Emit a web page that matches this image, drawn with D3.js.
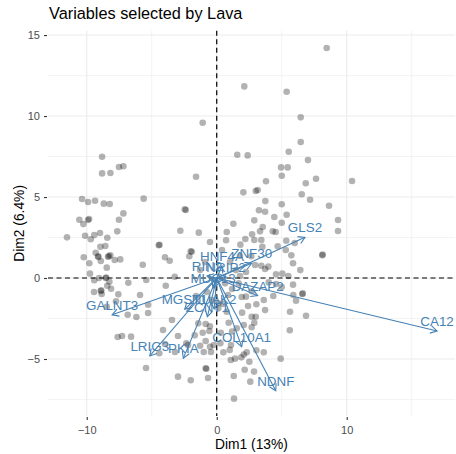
<!DOCTYPE html>
<meta charset="utf-8">
<style>
  body { margin: 0; background: #fff; }
  text { font-family: "Liberation Sans", Arial, sans-serif; }
</style>
<body>
<script src="https://d3js.org/d3.v7.min.js"></script>
<script>

// individuals (Dim1, Dim2)
var individuals = [
  [-8.82,7.49],[-8.82,6.46],[-8.18,6.48],[-7.52,6.85],[-7.18,6.90],[-10.36,4.88],[-9.90,4.69],[-9.36,4.77],
  [-8.69,4.59],[-8.23,4.57],[-5.62,4.90],[-7.18,3.99],[-7.52,3.60],[-10.57,3.60],[-10.26,3.33],[-9.90,3.58],
  [-9.82,3.64],[-11.52,2.51],[-10.13,2.61],[-9.69,2.39],[-9.42,2.65],[-8.98,2.78],[-8.42,2.49],[-7.65,2.88],
  [-8.57,1.98],[-8.95,1.93],[-10.23,1.28],[-9.31,1.56],[-9.13,1.34],[-9.10,1.30],[-8.36,1.31],[-8.30,1.35],
  [-8.18,1.40],[-9.80,0.91],[-8.92,1.05],[-8.46,0.64],[-7.85,1.11],[-7.42,1.15],[-9.75,0.27],[-5.69,0.82],
  [-4.46,2.02],[-4.40,2.05],[-3.98,1.28],[-3.62,1.07],[-2.80,2.92],[-2.46,4.24],[-2.11,1.34],[-2.00,1.65],
  [-3.23,0.08],[-9.42,-0.14],[-9.05,0.00],[-8.54,0.00],[-8.50,0.03],[-8.26,-0.23],[-6.80,-0.29],[-5.42,-0.12],
  [-9.44,-0.86],[-8.92,-0.80],[-8.88,-0.76],[-8.85,-0.99],[-8.42,-0.48],[-8.13,-0.66],[-7.57,-1.01],[-5.90,-1.05],
  [-3.92,-0.48],[-8.46,-1.77],[-7.75,-1.44],[-6.85,-2.27],[-6.18,-2.41],[-5.28,-1.65],[-5.28,-2.16],[-7.62,-3.64],
  [-7.28,-3.58],[-6.59,-3.62],[-4.42,-4.65],[-5.44,-5.56],[-2.98,-6.09],
  [1.58,7.61],[2.38,7.57],[5.54,7.80],[7.02,7.28],[4.95,6.83],[5.46,6.83],[5.00,6.31],[-1.59,6.25],
  [3.79,5.97],[6.85,5.85],[7.64,6.13],[2.05,5.29],[3.00,5.37],[3.15,5.43],[6.54,5.17],[7.18,4.83],
  [3.74,4.75],[5.00,4.55],[8.64,4.46],[3.25,4.18],[3.72,4.09],[-2.38,4.20],[5.38,3.91],[4.43,3.77],
  [1.28,3.35],[2.89,3.56],[3.54,3.15],[3.33,2.88],[0.77,2.84],[0.72,2.33],[-1.38,2.80],[4.31,2.88],
  [4.54,2.84],[5.00,3.41],[9.33,3.58],[9.33,2.90],[2.72,2.70],[2.89,2.35],[2.20,2.41],[3.43,2.35],
  [1.82,2.06],[3.51,1.93],[5.35,2.30],[6.00,2.16],[4.69,1.96],[5.31,1.73],[-1.92,1.62],[8.12,1.40],
  [8.15,1.45],[5.74,1.40],[5.87,0.91],[2.66,1.34],[2.95,0.80],[3.43,0.76],[3.72,0.56],[3.97,0.70],
  [4.56,0.23],[5.05,0.27],[5.51,0.12],[6.43,0.49],[0.64,-0.33],[1.69,-0.33],[4.00,-0.27],[4.56,-0.37],
  [5.00,-0.56],[6.58,-0.99],[6.62,-0.95],[5.87,-0.41],[2.69,-0.82],[4.35,-1.11],[3.62,-1.36],[1.92,-1.17],
  [2.25,-1.15],[3.05,-1.62],[2.41,-1.73],[3.72,-1.98],[6.87,-2.33],[0.12,-1.56],[0.48,-1.60],[0.12,-1.87],
  [0.77,-2.08],[1.95,-2.14],[2.69,-2.39],[3.00,-2.39],[2.08,-2.90],[2.89,-2.76],[2.69,-3.04],[0.92,-2.76],
  [1.54,-3.10],[1.18,-3.31],[5.62,-3.23],[-1.42,-2.80],[-0.85,-2.84],[-0.52,-2.98],[-0.57,-3.27],[-1.08,-3.38],
  [0.31,-3.38],[-1.69,-3.54],[-0.85,-3.89],[-0.52,-4.24],[-0.23,-4.14],[-1.28,-4.18],[0.28,-4.03],[1.10,-4.14],
  [1.00,-4.44],[0.51,-4.59],[-1.00,-4.57],[-0.44,-4.57],[3.05,-4.46],[2.31,-4.59],[2.08,-4.73],[3.62,-4.59],
  [4.92,-4.98],[1.08,-5.06],[1.41,-4.98],[1.89,-4.90],[2.51,-5.17],[2.15,-5.66],[2.87,-5.78],[-0.85,-5.57],
  [-0.80,-5.60],[-0.67,-6.17],[-2.00,-6.31],[1.31,-6.05],[2.58,-6.40],[1.33,-7.45],[-2.34,-4.03],
  [8.46,14.20],[2.12,11.83],[5.38,11.50],[6.46,9.92],[-1.08,9.59],[6.46,8.40],[10.41,5.99],
  [5.89,-1.05],[6.10,-1.40],[5.64,-2.08],
  [-0.90,0.99],[-1.28,0.49],[1.02,0.99],[1.48,0.49],[1.79,0.12],[1.18,-0.68],[-0.75,-0.86],[-1.59,-1.11],
  [-0.36,-1.36],[0.87,-1.05],[2.25,0.37],[1.79,1.36],[0.41,1.73],[-0.52,2.22],
  [-3.44,-2.59],[-4.13,-3.21],[-2.98,-3.58],[-2.21,-4.14],[-3.21,-4.57],[-3.98,-4.07]
];

// variables
var varNames = ["HNF4A", "RIN2", "NRIP2", "MUC13", "ZNF30", "GLS2", "DAZAP2", "CA12",
                "MGST1", "NUAK2", "ZCNT1", "GALNT3", "LRIG3", "PKIA", "COL10A1", "NDNF"];
var varDim1 = [0.40, -0.75, 0.72, -0.28, 2.69, 6.79, 3.15, 16.95,
               -2.46, -0.20, -0.72, -8.05, -5.15, -2.57, 1.92, 4.54];
var varDim2 = [0.74, 0.12, 0.06, -0.62, 0.91, 2.51, -1.09, -3.27,
               -1.93, -1.91, -2.39, -2.27, -4.81, -4.96, -4.24, -6.96];

var xTicks = [-10, 0, 10];
var xMinor = [-5, 5, 15];
var yTicks = [-5, 0, 5, 10, 15];
var yMinor = [-7.5, -2.5, 2.5, 7.5, 12.5];

var W = 456, H = 454;
var pl = 48, pr = 455, pt = 30.7, pb = 416;

var svg = d3.select("body").append("svg")
    .attr("width", W)
    .attr("height", H);

var x = d3.scaleLinear().domain([-12.98, 18.33]).range([pl, pr]);
var y = d3.scaleLinear().domain([-8.52, 15.27]).range([pb, pt]);

// grid
var grid = svg.append("g");
grid.selectAll(".minx").data(xMinor).enter().append("line")
    .attr("x1", d => x(d)).attr("x2", d => x(d))
    .attr("y1", pt).attr("y2", pb)
    .attr("stroke", "#ebebeb").attr("stroke-width", 0.6);
grid.selectAll(".miny").data(yMinor).enter().append("line")
    .attr("x1", pl).attr("x2", pr)
    .attr("y1", d => y(d)).attr("y2", d => y(d))
    .attr("stroke", "#ebebeb").attr("stroke-width", 0.6);
grid.selectAll(".majx").data(xTicks).enter().append("line")
    .attr("x1", d => x(d)).attr("x2", d => x(d))
    .attr("y1", pt).attr("y2", pb)
    .attr("stroke", "#ebebeb").attr("stroke-width", 1.1);
grid.selectAll(".majy").data(yTicks).enter().append("line")
    .attr("x1", pl).attr("x2", pr)
    .attr("y1", d => y(d)).attr("y2", d => y(d))
    .attr("stroke", "#ebebeb").attr("stroke-width", 1.1);

// axes (ticks + labels)
var xAxis = svg.append("g")
    .attr("transform", "translate(0," + (pb + 1) + ")")
    .call(d3.axisBottom(x).tickValues(xTicks).tickSize(3).tickPadding(6)
        .tickFormat(d3.format("")));
var yAxis = svg.append("g")
    .attr("transform", "translate(" + (pl - 1) + ",0)")
    .call(d3.axisLeft(y).tickValues(yTicks).tickSize(3).tickPadding(4)
        .tickFormat(d3.format("")));
[xAxis, yAxis].forEach(function (a) {
    a.select(".domain").remove();
    a.selectAll("line").attr("stroke", "#333").attr("stroke-width", 1.1);
    a.selectAll("text").attr("fill", "#4d4d4d").style("font-size", "11px")
        .style("font-family", "Liberation Sans, Arial, sans-serif");
});

// individuals
svg.append("g").selectAll("circle")
    .data(individuals)
    .enter().append("circle")
    .attr("cx", d => x(d[0]))
    .attr("cy", d => y(d[1]))
    .attr("r", 3.3)
    .attr("fill", "#000")
    .attr("fill-opacity", 0.3);

// reference lines
svg.append("line")
    .attr("x1", x(0)).attr("x2", x(0)).attr("y1", pt).attr("y2", pb)
    .attr("stroke", "#000").attr("stroke-width", 1.2).attr("stroke-dasharray", "5,3.5");
svg.append("line")
    .attr("x1", pl).attr("x2", pr).attr("y1", y(0)).attr("y2", y(0))
    .attr("stroke", "#000").attr("stroke-width", 1.2).attr("stroke-dasharray", "5,3.5");

// variable arrows
var col = "#4682B4";
var vars = varNames.map(function (n, i) { return {name: n, d1: varDim1[i], d2: varDim2[i]}; });
var ag = svg.append("g");
vars.forEach(function (v) {
    var x0 = x(0), y0 = y(0), x1 = x(v.d1), y1 = y(v.d2);
    ag.append("line")
        .attr("x1", x0).attr("y1", y0).attr("x2", x1).attr("y2", y1)
        .attr("stroke", col).attr("stroke-width", 1.1);
    var ang = Math.atan2(y1 - y0, x1 - x0), L = 7.5, a = Math.PI / 6;
    var p1 = [x1 - L * Math.cos(ang - a), y1 - L * Math.sin(ang - a)];
    var p2 = [x1 - L * Math.cos(ang + a), y1 - L * Math.sin(ang + a)];
    ag.append("path")
        .attr("d", "M" + p1 + "L" + x1 + "," + y1 + "L" + p2)
        .attr("fill", "none").attr("stroke", col).attr("stroke-width", 1.1);
});
ag.selectAll(".lab").data(vars).enter().append("text")
    .attr("x", d => x(d.d1))
    .attr("y", d => y(d.d2) - 5)
    .attr("text-anchor", "middle")
    .attr("fill", col)
    .style("font-size", "13.4px")
    .text(d => d.name);

// titles
svg.append("text")
    .attr("x", 49).attr("y", 18.5)
    .style("font-size", "16.3px")
    .text("Variables selected by Lava");
svg.append("text")
    .attr("x", (pl + pr) / 2).attr("y", 449)
    .attr("text-anchor", "middle")
    .style("font-size", "13.8px")
    .text("Dim1 (13%)");
svg.append("text")
    .attr("transform", "translate(24," + ((pt + pb) / 2) + ") rotate(-90)")
    .attr("text-anchor", "middle")
    .style("font-size", "13.8px")
    .text("Dim2 (6.4%)");

</script>
</body>
